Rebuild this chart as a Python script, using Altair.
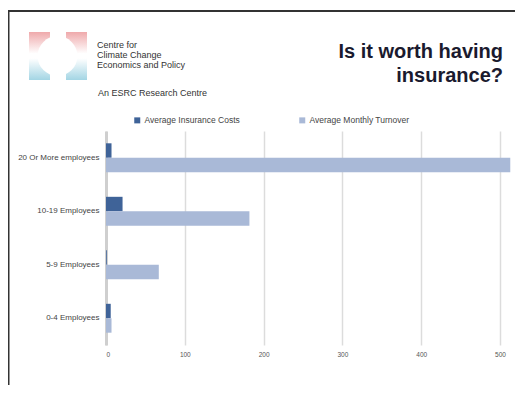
import altair as alt
import pandas as pd

categories = ["20 Or More employees", "10-19 Employees", "5-9 Employees", "0-4 Employees"]
series = ["Average Insurance Costs", "Average Monthly Turnover"]
insurance = [7, 21, 1, 6]
turnover = [513, 182, 67, 7]
tick_values = [0, 100, 200, 300, 400, 500]
colors = ["#3f6398", "#a9b9d7"]

rows = []
for c, a, b in zip(categories, insurance, turnover):
    rows.append({"category": c, "series": series[0], "value": a})
    rows.append({"category": c, "series": series[1], "value": b})
df = pd.DataFrame(rows)

FONT = "Liberation Sans"
one = pd.DataFrame({"k": [0]})

# plot origin is at page (106, 131)
def px(x):
    return x - 106

def py(y):
    return y - 131

bars = alt.Chart(df).mark_bar().encode(
    x=alt.X("value:Q", scale=alt.Scale(domain=[0, 519], nice=False),
            axis=alt.Axis(values=tick_values, grid=True, gridColor="#dcdcdc", gridWidth=1.5,
                          domain=False, ticks=False, labelFontSize=6.5, labelPadding=6,
                          labelColor="#555555", labelFont=FONT, title=None)),
    y=alt.Y("category:N", sort=categories,
            scale=alt.Scale(paddingInner=0.46, paddingOuter=0.23),
            axis=alt.Axis(title=None, ticks=False, domainColor="#cfcfcf", domainWidth=3,
                          labelFontSize=8, labelPadding=7, labelColor="#444444",
                          labelFont=FONT, grid=False)),
    yOffset=alt.YOffset("series:N", sort=series),
    color=alt.Color("series:N", sort=series,
                    scale=alt.Scale(domain=series, range=colors),
                    legend=alt.Legend(orient="none", legendX=27, legendY=-15,
                                      direction="horizontal", title=None,
                                      symbolType="square", symbolSize=36,
                                      symbolStrokeWidth=0, labelFontSize=8.5,
                                      labelFont=FONT, labelColor="#444444",
                                      labelOffset=3, columnPadding=58)),
)

border_left = alt.Chart(one).mark_rule(color="#333333", strokeWidth=2).encode(
    x=alt.value(px(8.5)), y=alt.value(py(11)), y2=alt.value(py(400)))
border_top = alt.Chart(one).mark_rule(color="#333333", strokeWidth=2).encode(
    y=alt.value(py(11)), x=alt.value(px(7.5)), x2=alt.value(px(523)))

grad = alt.Gradient(
    gradient="linear", x1=0, x2=0, y1=0, y2=1,
    stops=[alt.GradientStop(offset=0, color="#efa9ab"),
           alt.GradientStop(offset=0.45, color="#ffffff"),
           alt.GradientStop(offset=0.55, color="#ffffff"),
           alt.GradientStop(offset=1, color="#a3d5e4")])
logo_l = alt.Chart(one).mark_rect(color=grad).encode(
    x=alt.value(px(29)), x2=alt.value(px(50)), y=alt.value(py(32)), y2=alt.value(py(80)))
logo_r = alt.Chart(one).mark_rect(color=grad).encode(
    x=alt.value(px(66)), x2=alt.value(px(87)), y=alt.value(py(32)), y2=alt.value(py(80)))
logo_c = alt.Chart(one).mark_circle(color="white", opacity=1, size=1590).encode(
    x=alt.value(px(57.5)), y=alt.value(py(56)))

logo_text = alt.Chart(one).mark_text(
    text="Centre for\nClimate  Change\nEconomics and Policy", lineBreak="\n", lineHeight=10,
    align="left", baseline="middle", font=FONT, fontSize=9, color="#333333").encode(
    x=alt.value(px(97)), y=alt.value(py(45)))
esrc_text = alt.Chart(one).mark_text(
    text="An ESRC Research Centre", align="left", baseline="middle", font=FONT,
    fontSize=9, color="#333333").encode(x=alt.value(px(98)), y=alt.value(py(93)))

title = alt.Chart(one).mark_text(
    text="Is it worth having\ninsurance?", lineBreak="\n", lineHeight=24, align="right",
    baseline="alphabetic", font=FONT, fontWeight="bold", fontSize=20,
    color="#1a1a2e").encode(x=alt.value(px(503)), y=alt.value(py(58)))

chart = alt.layer(
    logo_l, logo_r, logo_c, logo_text, esrc_text, title, bars, border_left, border_top
).properties(
    width=409, height=214,
    autosize=alt.AutoSizeParams(type="none"),
    padding={"left": 98, "top": 123, "right": 0, "bottom": 40},
    background="white",
).configure_view(stroke=None)

chart.save("out.html", embed_options={"renderer": "svg", "actions": False})
